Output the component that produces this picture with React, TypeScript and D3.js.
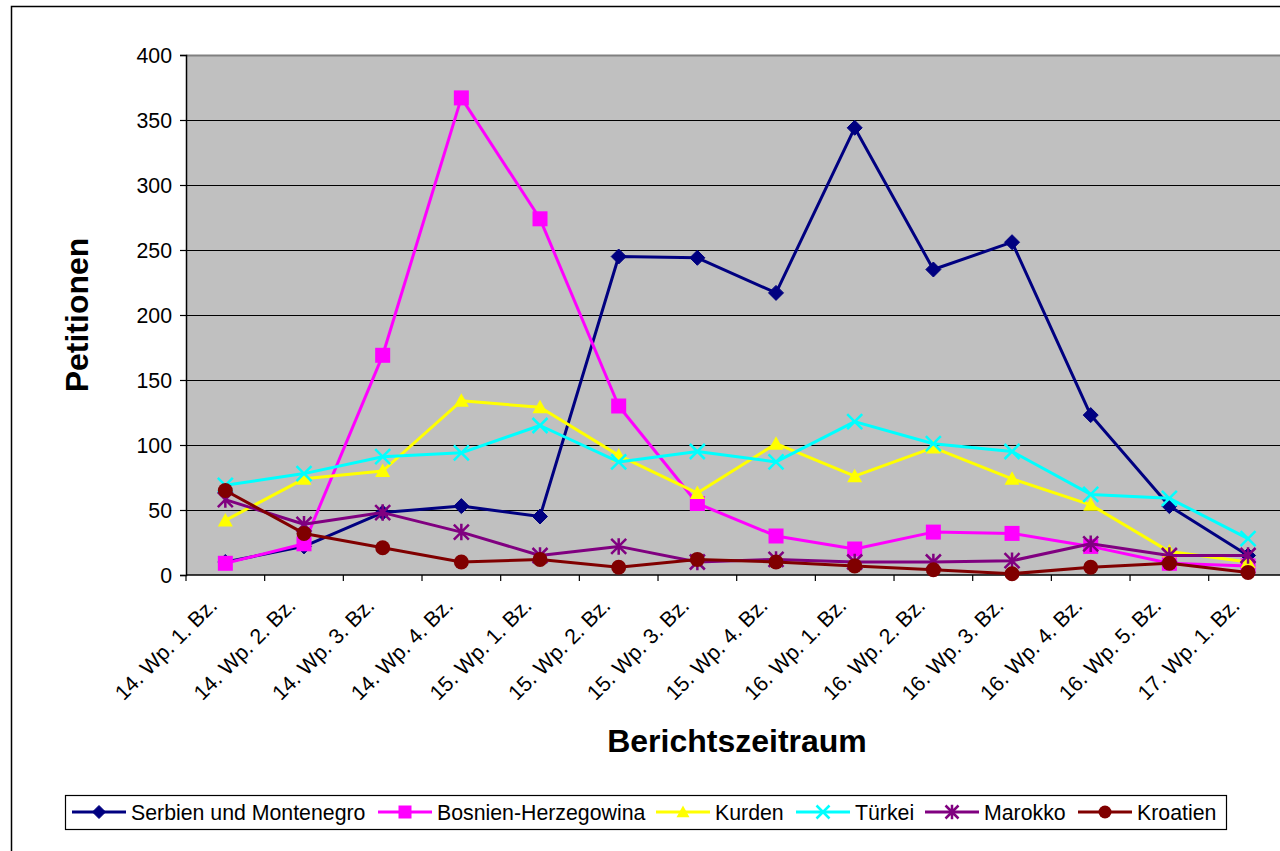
import React, { useEffect, useRef } from "react";
import * as d3 from "d3";

const categories = [
  "14. Wp. 1. Bz.", "14. Wp. 2. Bz.", "14. Wp. 3. Bz.", "14. Wp. 4. Bz.",
  "15. Wp. 1. Bz.", "15. Wp. 2. Bz.", "15. Wp. 3. Bz.", "15. Wp. 4. Bz.",
  "16. Wp. 1. Bz.", "16. Wp. 2. Bz.", "16. Wp. 3. Bz.", "16. Wp. 4. Bz.",
  "16. Wp. 5. Bz.", "17. Wp. 1. Bz.",
];

const serbien = [10, 22, 48, 53, 45, 245, 244, 217, 344, 235, 256, 123, 53, 15];
const bosnien = [9, 24, 169, 367, 274, 130, 55, 30, 20, 33, 32, 22, 9, 7];
const kurden = [42, 74, 80, 134, 129, 92, 63, 101, 76, 98, 74, 54, 18, 10];
const tuerkei = [69, 78, 91, 94, 115, 87, 95, 87, 118, 101, 95, 62, 59, 28];
const marokko = [58, 39, 48, 33, 15, 22, 10, 12, 10, 10, 11, 24, 15, 15];
const kroatien = [65, 32, 21, 10, 12, 6, 12, 10, 7, 4, 1, 6, 9, 2];

const yTicks = [0, 50, 100, 150, 200, 250, 300, 350, 400];

const seriesNames = ["Serbien und Montenegro", "Bosnien-Herzegowina", "Kurden", "Türkei", "Marokko", "Kroatien"];
const seriesValues = [serbien, bosnien, kurden, tuerkei, marokko, kroatien];
const seriesColors = ["#000080", "#FF00FF", "#FFFF00", "#00FFFF", "#800080", "#800000"];
const seriesMarkers = ["diamond", "square", "triangle", "x", "star", "circle"];

const FONT = "'Liberation Sans', Arial, sans-serif";

function drawMarker(g: any, type: string, x: number, y: number, color: string, s: number) {
  if (type === "diamond") {
    const r = s * 0.5;
    g.append("path").attr("d", `M${x},${y - r}L${x + r},${y}L${x},${y + r}L${x - r},${y}Z`).attr("fill", color).attr("stroke", color).attr("stroke-width", 1);
  } else if (type === "square") {
    const r = s * 0.5;
    g.append("rect").attr("x", x - r).attr("y", y - r).attr("width", 2 * r).attr("height", 2 * r).attr("fill", color);
  } else if (type === "triangle") {
    const r = s * 0.5;
    g.append("path").attr("d", `M${x},${y - r}L${x + r},${y + r * 0.8}L${x - r},${y + r * 0.8}Z`).attr("fill", color);
  } else if (type === "x") {
    const r = s * 0.5;
    g.append("path").attr("d", `M${x - r},${y - r}L${x + r},${y + r}M${x - r},${y + r}L${x + r},${y - r}`).attr("stroke", color).attr("stroke-width", 2.5).attr("fill", "none");
  } else if (type === "star") {
    const r = s * 0.5;
    g.append("path").attr("d", `M${x - r},${y - r}L${x + r},${y + r}M${x - r},${y + r}L${x + r},${y - r}M${x},${y - r * 1.1}L${x},${y + r * 1.1}`).attr("stroke", color).attr("stroke-width", 2.5).attr("fill", "none");
  } else if (type === "circle") {
    g.append("circle").attr("cx", x).attr("cy", y).attr("r", s * 0.5).attr("fill", color);
  }
}

export default function App() {
  const ref = useRef<SVGSVGElement>(null);

  useEffect(() => {
    const svg = d3.select(ref.current);
    svg.selectAll("*").remove();

    const W = 1280, H = 851;
    const left = 186, top = 55, bottom = 575;
    const right = left + 14 * 78.67;

    svg.append("rect").attr("x", 0).attr("y", 0).attr("width", W).attr("height", H).attr("fill", "#fff");
    svg.append("rect").attr("x", 11.5).attr("y", 6.5).attr("width", 1400).attr("height", 1000)
      .attr("fill", "none").attr("stroke", "#000").attr("stroke-width", 1.5);

    const x = d3.scaleBand().domain(categories).range([left, right]).padding(0);
    const y = d3.scaleLinear().domain([0, 400]).range([bottom, top]);

    // plot area
    svg.append("rect").attr("x", left).attr("y", top).attr("width", right - left).attr("height", bottom - top)
      .attr("fill", "#C0C0C0");
    svg.append("line").attr("x1", left).attr("x2", right).attr("y1", top + 0.5).attr("y2", top + 0.5)
      .attr("stroke", "#808080").attr("stroke-width", 2);

    // gridlines
    svg.append("g").selectAll("line").data(yTicks.filter(t => t > 0 && t < 400)).join("line")
      .attr("x1", left).attr("x2", right)
      .attr("y1", d => Math.round(y(d)) + 0.5).attr("y2", d => Math.round(y(d)) + 0.5)
      .attr("stroke", "#000").attr("stroke-width", 1);

    // y axis
    const yAxis = d3.axisLeft(y).tickValues(yTicks).tickSize(6).tickPadding(8);
    const ya = svg.append("g").attr("transform", `translate(${left},0)`).call(yAxis);
    ya.select(".domain").attr("stroke", "#000").attr("stroke-width", 1.5);
    ya.selectAll(".tick line").attr("stroke", "#000").attr("stroke-width", 1.2);
    ya.selectAll(".tick text").attr("font-family", FONT).attr("font-size", 21.3).attr("fill", "#000")
      .attr("dy", "0.36em");

    // x axis
    const xa = svg.append("g").attr("transform", `translate(0,${bottom})`);
    xa.append("line").attr("x1", left).attr("x2", right).attr("y1", 0).attr("y2", 0).attr("stroke", "#000").attr("stroke-width", 1.5);
    const bounds = d3.range(categories.length + 1).map(i => left + i * x.bandwidth());
    xa.selectAll("line.tk").data(bounds).join("line").attr("class", "tk")
      .attr("x1", d => d).attr("x2", d => d).attr("y1", 0).attr("y2", 6).attr("stroke", "#000").attr("stroke-width", 1.2);
    xa.selectAll("text").data(categories).join("text")
      .attr("transform", d => `translate(${(x(d) as number) + x.bandwidth() / 2 - 7},${32}) rotate(-45)`)
      .attr("text-anchor", "end")
      .attr("font-family", FONT).attr("font-size", 21.3).attr("fill", "#000")
      .text(d => d);

    // series
    const cx = (i: number) => (x(categories[i]) as number) + x.bandwidth() / 2;
    seriesValues.forEach((vals, si) => {
      const g = svg.append("g");
      const line = d3.line<number>().x((_, i) => cx(i)).y(v => y(v));
      g.append("path").attr("d", line(vals)).attr("fill", "none")
        .attr("stroke", seriesColors[si]).attr("stroke-width", 3).attr("stroke-linejoin", "round");
      vals.forEach((v, i) => drawMarker(g, seriesMarkers[si], cx(i), y(v), seriesColors[si], 15));
    });

    // axis titles
    svg.append("text").attr("transform", `translate(88,${(top + bottom) / 2}) rotate(-90)`)
      .attr("text-anchor", "middle").attr("font-family", FONT).attr("font-weight", "bold")
      .attr("font-size", 32).attr("fill", "#000").text("Petitionen");
    svg.append("text").attr("x", 737).attr("y", 752)
      .attr("text-anchor", "middle").attr("font-family", FONT).attr("font-weight", "bold")
      .attr("font-size", 32).attr("fill", "#000").text("Berichtszeitraum");

    // legend
    const lg = svg.append("g");
    lg.append("rect").attr("x", 65.5).attr("y", 795.5).attr("width", 1161).attr("height", 34)
      .attr("fill", "#fff").attr("stroke", "#000").attr("stroke-width", 1.2);
    const lineStarts = [72, 378, 656, 796, 925, 1078];
    const ly = 812;
    seriesNames.forEach((name, si) => {
      const x0 = lineStarts[si];
      lg.append("line").attr("x1", x0).attr("x2", x0 + 54).attr("y1", ly).attr("y2", ly)
        .attr("stroke", seriesColors[si]).attr("stroke-width", 3);
      drawMarker(lg, seriesMarkers[si], x0 + 27, ly, seriesColors[si], 13);
      lg.append("text").attr("x", x0 + 59).attr("y", ly).attr("dy", "0.36em")
        .attr("font-family", FONT).attr("font-size", 21.3).attr("fill", "#000").text(name);
    });
  }, []);

  return <svg ref={ref} width={1280} height={851} style={{ display: "block", position: "absolute", left: 0, top: 0 }} />;
}
